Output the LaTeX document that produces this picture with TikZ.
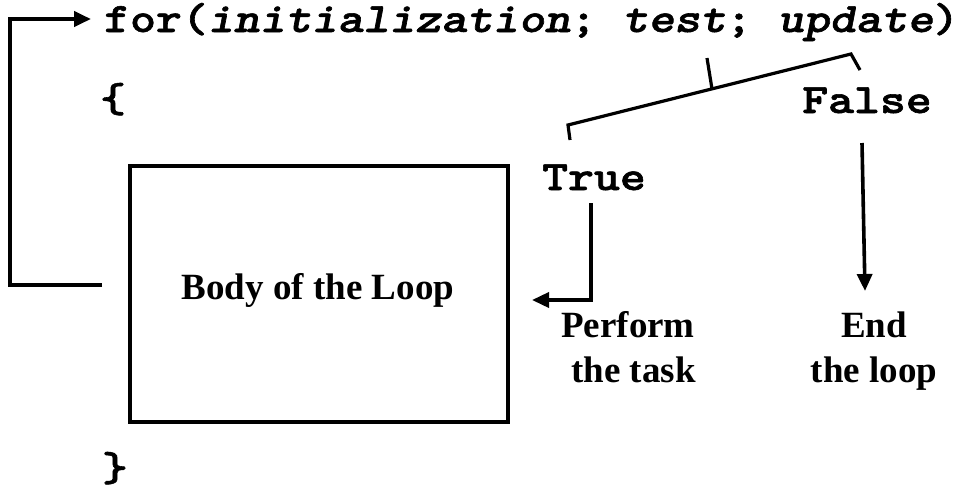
\documentclass[tikz,border=0pt]{standalone}
\usepackage{fontspec}
\usepackage{graphicx}
\setmainfont{Liberation Serif}
\newfontfamily\codefont{lmmonolt10-bold}[Extension=.otf, FakeBold=1.3,
  BoldFont=lmmonolt10-bold, ItalicFont=lmmonolt10-boldoblique,
  BoldItalicFont=lmmonolt10-boldoblique]
\usetikzlibrary{arrows.meta}
% monospaced code text, widened to a 25.9pt character cell
\newcommand\codeline[1]{\scalebox{1.175}[1]{#1}}
\tikzset{
  codetext/.style={inner sep=0pt, font=\codefont\fontsize{42}{50}\selectfont},
  labeltext/.style={inner sep=0pt, align=center, font=\bfseries\fontsize{37}{45}\selectfont},
  bodybox/.style={draw, line width=4pt, minimum width=378pt, minimum height=255.5pt, inner sep=0pt},
  flow/.style={line width=4pt},
  flowarrow/.style={line width=3.6pt, -{Triangle[length=17pt,width=15pt]}},
  brace/.style={line width=3.2pt, line join=miter},
}
\begin{document}
\begin{tikzpicture}[x=1pt,y=-1pt]
  \useasboundingbox (0,0) rectangle (958,491);

  % code lines
  \node[codetext, anchor=base west] (forline) at (104,32)
    {\codeline{for(\textit{initialization}; \textit{test}; \textit{update})}};
  \node[codetext, anchor=base] (openbrace) at (113,112) {\codeline{\{}};
  \node[codetext, anchor=base] (closebrace) at (115,481) {\codeline{\}}};

  % body of the loop
  \node[bodybox] (body) at (319,294) {};
  \node[inner sep=0pt, anchor=base, font=\bfseries\fontsize{37}{44}\selectfont] (bodytext) at (318,299) {Body of the Loop};

  % outcome labels
  \node[codetext, anchor=base] (true) at (594,190) {\codeline{True}};
  \node[codetext, anchor=base] (false) at (867,113) {\codeline{False}};
  \node[labeltext, anchor=base] (perform) at (628,382) {Perform\\\hspace*{0.3em}the task};
  \node[labeltext, anchor=base] (endloop) at (874,382) {End\\the loop};

  % loop back to the for statement
  \coordinate (loopend) at (102,285);
  \coordinate (looptip) at (91,19);
  \draw[flow, line join=miter] (loopend) -- (10,285) -- (10,19) -- (74,19);
  \draw[flowarrow, line width=4pt] (72,19) -- (looptip);

  % bracket under the test expression
  \coordinate (bl) at (570,140);
  \coordinate (blc) at (568,125);
  \coordinate (brc) at (851,54);
  \coordinate (br) at (860,70);
  \draw[brace] (bl) -- (blc) -- (brc) -- (br);
  \coordinate (tickbase) at (712,89);
  \coordinate (ticktop) at (707,58);
  \draw[brace] (tickbase) -- (ticktop);

  % true branch into the body
  \coordinate (tstart) at (591,203);
  \coordinate (ttip) at (532,300);
  \draw[flowarrow, line join=miter] (tstart) |- (ttip);

  % false branch ends the loop
  \coordinate (fstart) at (862,143);
  \coordinate (ftip) at (865,291);
  \draw[flowarrow] (fstart) -- (ftip);
\end{tikzpicture}
\end{document}
